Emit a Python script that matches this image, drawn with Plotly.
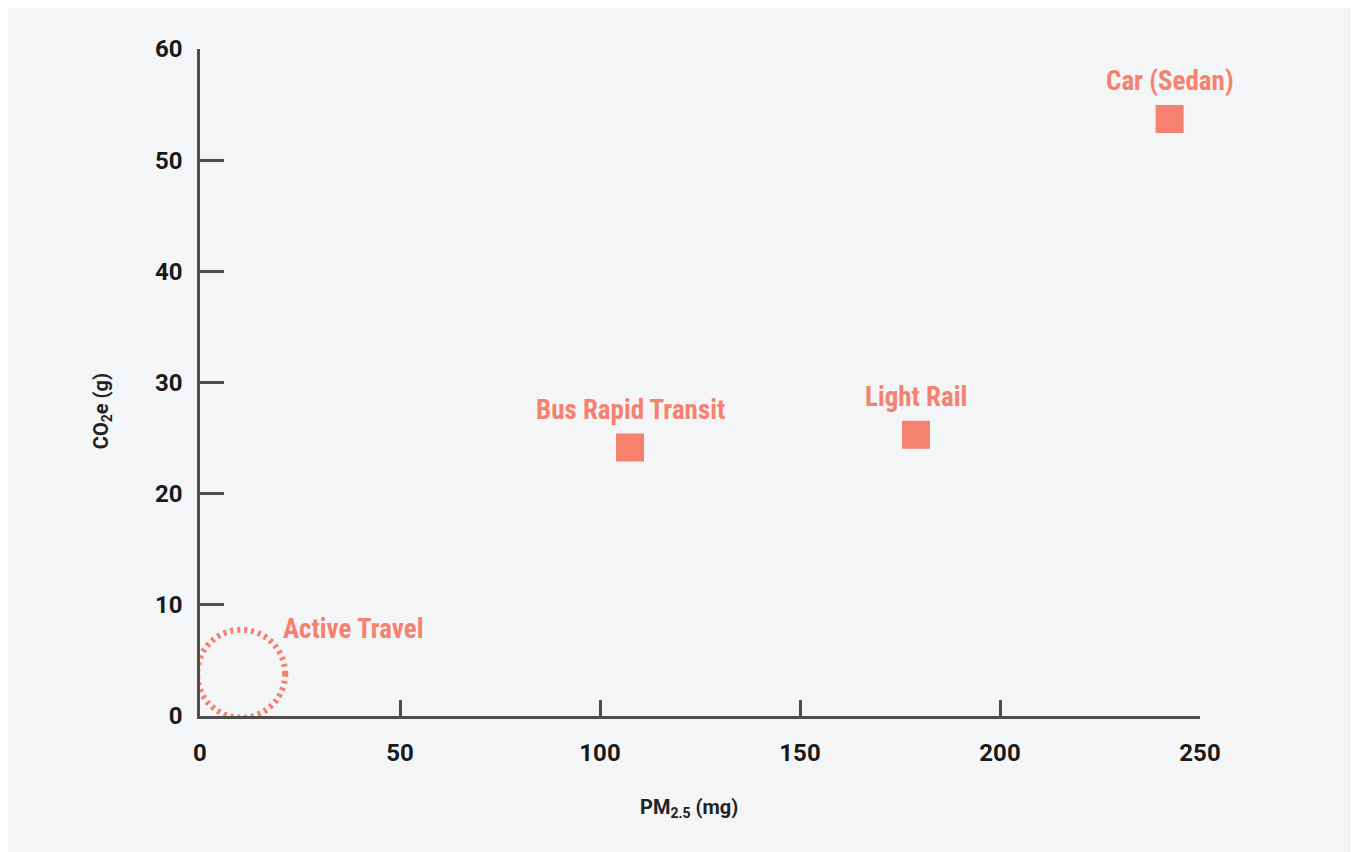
import plotly.graph_objects as go

# Data
modes = ["Bus Rapid Transit", "Light Rail", "Car (Sedan)"]
pm25 = [107.5, 179, 242.4]
co2e = [24.15, 25.3, 53.7]

active_label = "Active Travel"
active_pm25 = 10.3
active_co2e = 3.8

x_ticks = [0, 50, 100, 150, 200, 250]
y_ticks = [0, 10, 20, 30, 40, 50, 60]

SALMON = "#f5826e"
AXIS = "#4d4d4d"
BG = "#f4f5f7"
LABEL_FONT = "Liberation Sans Narrow, Roboto Condensed, Arial Narrow, Roboto, sans-serif"

fig = go.Figure()
fig.add_trace(go.Scatter(
    x=pm25, y=co2e, mode="markers",
    marker=dict(symbol="square", size=28, color=SALMON, line=dict(width=0)),
    cliponaxis=False, hoverinfo="text", text=modes, showlegend=False,
))

annotations = []
for m, xv, yv in zip(modes, pm25, co2e):
    annotations.append(dict(
        x=xv, y=yv, xref="x", yref="y", text=f"<b>{m}</b>", showarrow=False,
        yshift=38, font=dict(family=LABEL_FONT, size=27, color=SALMON),
    ))
annotations.append(dict(
    x=active_pm25, y=active_co2e, xref="x", yref="y", text=f"<b>{active_label}</b>",
    showarrow=False, xanchor="left", xshift=40, yshift=45,
    font=dict(family=LABEL_FONT, size=27, color=SALMON),
))
annotations.append(dict(
    x=0.4885, y=-0.16, xref="paper", yref="paper", showarrow=False,
    text="<b>PM<sub>2.5</sub> (mg)</b>", font=dict(family="Roboto, sans-serif", size=20, color="#222"),
))
annotations.append(dict(
    x=-0.113, y=0.457, xref="paper", yref="paper", showarrow=False, textangle=-90,
    text="<b>CO<sub>2</sub>e (g)</b>", font=dict(family="Roboto, sans-serif", size=20, color="#222"),
))

shapes = [dict(
    type="circle", xref="x", yref="y", xsizemode="pixel", ysizemode="pixel",
    xanchor=active_pm25, yanchor=active_co2e, x0=-44, x1=44, y0=-44, y1=44,
    line=dict(color=SALMON, width=6, dash="3px,4px"), fillcolor="rgba(0,0,0,0)",
)]

fig.update_layout(
    width=1351, height=844,
    margin=dict(l=192, r=159, t=41, b=136),
    paper_bgcolor=BG, plot_bgcolor=BG,
    annotations=annotations, shapes=shapes,
    xaxis=dict(range=[0, 250], tickvals=x_ticks, ticks="inside", ticklen=16, tickwidth=2.5,
               tickcolor=AXIS, showline=True, linecolor=AXIS, linewidth=2.5, showgrid=False,
               zeroline=False, ticklabelstandoff=13,
               tickfont=dict(family="Roboto, sans-serif", size=24, color="#1a1a1a", weight="bold")),
    yaxis=dict(range=[0, 60], tickvals=y_ticks, ticks="inside", ticklen=24, tickwidth=2.5,
               tickcolor=AXIS, showline=True, linecolor=AXIS, linewidth=2.5, showgrid=False,
               zeroline=False, ticklabelstandoff=10,
               tickfont=dict(family="Roboto, sans-serif", size=24, color="#1a1a1a", weight="bold")),
)

fig.write_html("out.html")
